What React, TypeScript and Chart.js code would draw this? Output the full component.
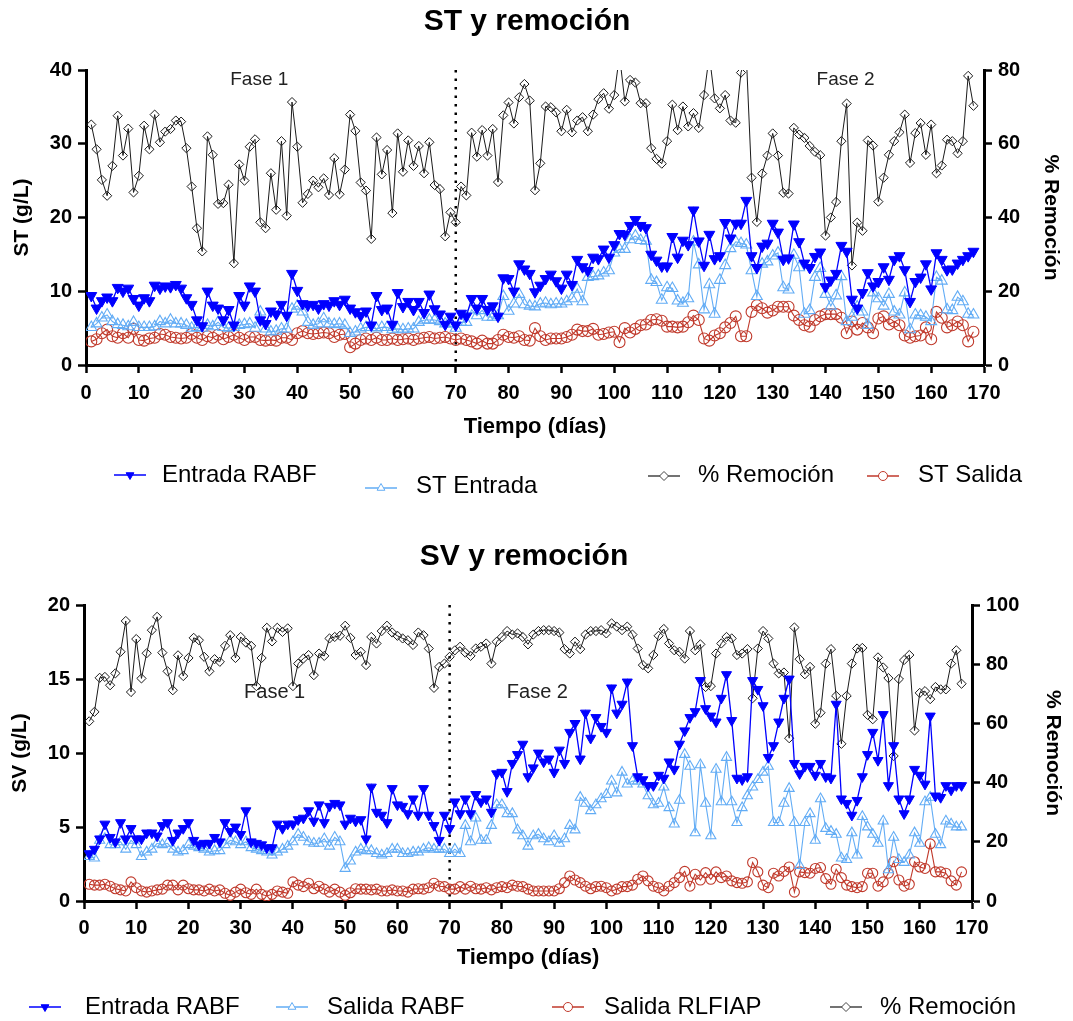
import React, { useEffect, useRef } from "react";
import { Chart, registerables } from "chart.js";

Chart.register(...registerables);

const FONT = '"Liberation Sans", Arial, Helvetica, sans-serif';
const BLUE = "#0000ff";
const LIGHT_BLUE = "#62acf5";
const RED = "#c0392b";
const GREY = "#1a1a1a";

// days are consecutive daily samples starting at day 1
const FIRST_DAY = 1;
const DIVIDER_DAY = 70;

const X_TICKS = [0, 10, 20, 30, 40, 50, 60, 70, 80, 90, 100, 110, 120, 130, 140, 150, 160, 170];
const ST_TICKS = [0, 10, 20, 30, 40];
const ST_REM_TICKS = [0, 20, 40, 60, 80];
const SV_TICKS = [0, 5, 10, 15, 20];
const SV_REM_TICKS = [0, 20, 40, 60, 80, 100];

// ---------- Top chart: ST (g/L) ----------
const ST_ENTRADA_RABF = [
  9.4, 7.7, 8.7, 9.2, 8.7, 10.5, 10.0, 10.4, 9.0, 8.1,
  9.1, 8.7, 10.8, 10.4, 10.7, 10.6, 10.9, 10.4, 9.1, 8.2,
  6.1, 5.3, 10.0, 8.1, 7.7, 6.1, 7.5, 5.4, 9.4, 8.1,
  10.7, 10.0, 6.1, 5.6, 7.3, 6.9, 8.2, 6.7, 12.4, 10.1,
  8.3, 8.1, 8.2, 7.7, 8.3, 8.1, 8.7, 8.2, 8.9, 7.7,
  7.2, 6.7, 7.3, 5.4, 9.4, 7.5, 7.7, 5.5, 9.8, 7.9,
  8.6, 7.5, 8.6, 7.1, 9.6, 7.6, 6.9, 5.5, 6.6, 5.4,
  7.0, 6.6, 9.0, 7.7, 9.0, 7.5, 8.0, 6.6, 11.8, 11.7,
  10.0, 13.7, 13.0, 12.4, 9.9, 10.8, 11.7, 12.3, 11.4, 10.4,
  12.3, 10.9, 14.3, 13.3, 12.8, 14.6, 14.4, 15.7, 14.6, 16.3,
  17.8, 17.7, 18.9, 19.7, 18.9, 18.6, 15.0, 14.2, 13.4, 13.4,
  17.4, 14.6, 16.9, 16.3, 21.0, 16.8, 13.5, 17.7, 14.4, 14.8,
  19.3, 17.2, 19.2, 19.2, 22.3, 14.8, 13.2, 16.1, 16.5, 19.2,
  18.0, 14.3, 14.5, 19.1, 16.7, 13.8, 13.2, 14.7, 15.3, 10.6,
  11.5, 12.4, 16.2, 15.4, 8.9, 7.7, 9.8, 12.5, 10.7, 11.3,
  13.3, 11.6, 14.3, 14.8, 12.9, 8.6, 11.3, 11.9, 13.7, 10.3,
  15.2, 14.3, 12.9, 13.0, 13.8, 14.3, 14.8, 15.4,
];

const ST_ENTRADA = [
  5.1, 5.6, 6.4, 6.8, 5.9, 5.5, 5.4, 5.2, 5.8, 5.1,
  5.1, 5.1, 5.2, 5.9, 5.6, 6.1, 5.6, 5.6, 5.4, 5.0,
  5.1, 5.0, 5.4, 5.2, 5.8, 5.1, 5.0, 5.1, 5.4, 5.5,
  5.6, 5.0, 7.2, 4.9, 4.5, 4.6, 4.9, 4.9, 7.6, 8.0,
  7.2, 5.8, 5.4, 5.6, 6.3, 5.6, 5.5, 5.6, 5.4, 4.3,
  4.5, 4.9, 5.1, 5.1, 4.9, 5.1, 5.1, 4.8, 4.9, 4.8,
  4.9, 4.9, 5.8, 6.1, 6.1, 6.1, 5.9, 5.6, 5.6, 5.0,
  5.8, 5.8, 7.5, 6.7, 7.4, 6.5, 6.5, 6.7, 9.3, 7.3,
  8.3, 9.6, 8.2, 8.0, 7.9, 8.3, 8.4, 8.2, 8.3, 8.3,
  8.6, 9.0, 10.3, 8.6, 11.9, 12.0, 12.1, 12.5, 12.8, 15.2,
  15.7, 15.7, 17.0, 17.5, 16.9, 16.8, 11.5, 11.2, 8.8, 10.5,
  10.4, 8.7, 8.4, 9.0, 16.7, 13.6, 7.5, 10.9, 6.9, 11.5,
  13.5, 15.8, 16.7, 16.5, 16.3, 12.8, 9.3, 13.7, 14.0, 14.8,
  15.2, 10.5, 10.2, 14.9, 13.2, 6.9, 7.4, 11.9, 13.1, 9.6,
  8.0, 9.4, 12.0, 5.9, 6.5, 7.9, 7.2, 5.4, 9.8, 9.0,
  8.0, 9.6, 7.2, 6.8, 9.8, 4.8, 6.8, 6.7, 6.5, 5.9,
  11.9, 11.4, 7.5, 7.4, 9.2, 8.6, 6.9, 6.8,
];

const ST_SALIDA = [
  3.2, 3.5, 4.3, 4.8, 3.9, 3.7, 4.3, 3.7, 4.9, 3.4,
  3.3, 3.6, 3.7, 4.2, 4.1, 3.8, 3.7, 3.6, 3.7, 4.2,
  3.7, 3.4, 3.9, 3.7, 4.1, 3.5, 3.8, 4.1, 3.7, 3.4,
  3.8, 3.8, 3.4, 3.3, 3.4, 3.3, 3.7, 3.7, 3.4, 4.3,
  4.6, 4.3, 4.2, 4.3, 4.4, 4.3, 3.8, 4.1, 4.2, 2.4,
  2.9, 3.4, 3.6, 3.4, 3.7, 3.4, 3.4, 3.6, 3.4, 3.5,
  3.6, 3.4, 3.6, 3.7, 3.8, 3.6, 3.7, 3.8, 3.6, 3.4,
  3.6, 3.4, 3.2, 2.9, 3.3, 2.9, 2.9, 3.4, 4.1, 3.8,
  3.7, 3.9, 3.4, 3.3, 5.0, 3.9, 3.4, 3.6, 3.6, 3.6,
  3.8, 4.1, 4.8, 4.6, 4.6, 4.9, 4.1, 4.2, 4.4, 4.5,
  3.1, 5.0, 4.4, 4.9, 5.4, 5.5, 6.1, 6.2, 6.0, 5.2,
  5.2, 5.1, 5.2, 5.8, 6.7, 6.1, 3.6, 3.3, 4.0, 4.3,
  5.1, 5.7, 6.6, 3.9, 3.9, 7.2, 8.1, 7.7, 7.1, 7.4,
  7.9, 7.9, 7.9, 6.7, 6.1, 5.4, 5.2, 6.1, 6.6, 6.9,
  6.9, 6.9, 6.4, 4.3, 5.9, 4.8, 5.7, 5.1, 4.3, 6.3,
  6.6, 5.5, 5.9, 5.4, 4.0, 3.7, 3.9, 4.0, 5.1, 3.5,
  7.2, 6.4, 5.1, 5.4, 5.9, 5.4, 3.2, 4.5,
];

const ST_REMOCION = [
  65.2, 58.5, 50.2, 45.9, 54, 67.6, 56.8, 64.1, 46.8, 51.3,
  64.9, 58.5, 67.9, 60.4, 63.3, 64, 66.3, 66, 58.8, 48.4,
  37.1, 30.8, 62, 57, 43.7, 43.9, 48.9, 27.6, 54.4, 50,
  59.2, 61.2, 38.7, 37.1, 52, 42.1, 60.7, 40.5, 71.3, 59.2,
  44, 46.4, 50, 48.2, 50.6, 46.1, 56.1, 46.3, 53, 67.9,
  63.5, 49.5, 47.3, 34.2, 61.7, 51.7, 58.3, 41.2, 62.8, 52.4,
  60.9, 54, 59.4, 52, 60.4, 48.8, 47.7, 34.9, 41.4, 38.7,
  48.4, 46, 63, 56.5, 63.7, 56.8, 64, 49.6, 67.7, 71.2,
  65.5, 72.6, 76.2, 71.7, 47.4, 54.7, 70.1, 69.9, 68.5, 63.4,
  69.2, 63.1, 66.3, 67.2, 63.4, 67.9, 72.1, 73.7, 69.5, 73.2,
  84, 71.5, 77.3, 76.6, 71, 71, 58.8, 55.9, 54.6, 60.7,
  70.6, 63.7, 70.1, 64.7, 68.3, 64.3, 73.2, 84, 72.3, 69.6,
  73.2, 66.3, 65.7, 79.3, 84, 50.8, 38.8, 51.9, 56.8, 62.8,
  56.8, 46.7, 46.5, 64.3, 62.5, 61.6, 59.4, 57.8, 56.9, 35.1,
  40, 44.2, 60.7, 70.9, 27, 38.6, 36.4, 60.9, 59.5, 44.3,
  50.8, 57, 60.7, 63.1, 67.9, 54.8, 62.9, 65.6, 57, 65.2,
  52, 54.1, 61.1, 60.7, 57.4, 60.7, 78.4, 70.3,
];

// ---------- Bottom chart: SV (g/L) ----------
const SV_ENTRADA_RABF = [
  3.2, 3.5, 4.2, 5.2, 4.3, 4.0, 5.3, 4.2, 4.9, 4.2,
  4.2, 4.6, 4.6, 4.4, 5.1, 5.3, 4.1, 4.6, 4.9, 5.3,
  4.1, 3.8, 3.9, 3.9, 4.3, 4.0, 5.3, 4.7, 5.0, 4.5,
  6.1, 4.0, 3.9, 3.8, 3.6, 3.6, 5.2, 4.9, 5.2, 5.2,
  5.5, 5.6, 6.1, 5.4, 6.5, 5.3, 6.4, 6.6, 6.5, 5.2,
  5.6, 5.4, 5.5, 4.2, 7.7, 6.0, 5.8, 5.3, 7.6, 6.5,
  6.4, 5.9, 6.9, 5.8, 7.6, 5.8, 5.1, 4.1, 5.8, 4.9,
  6.7, 5.9, 6.9, 5.9, 7.2, 6.7, 6.9, 6.0, 8.6, 8.7,
  7.4, 9.3, 9.9, 10.6, 8.4, 9.0, 10.0, 9.4, 9.6, 8.7,
  10.2, 9.3, 11.4, 12.0, 9.6, 12.7, 11.0, 12.4, 11.8, 11.4,
  14.4, 12.7, 13.3, 14.8, 10.5, 8.4, 8.2, 7.8, 7.8, 8.5,
  8.3, 9.4, 8.9, 10.6, 11.5, 12.4, 12.8, 14.9, 13.0, 12.5,
  12.1, 13.7, 15.3, 12.2, 8.3, 8.2, 8.4, 14.9, 14.3, 13.2,
  9.7, 10.5, 12.1, 13.7, 15.0, 9.3, 8.6, 9.1, 9.1, 8.5,
  9.3, 8.4, 8.3, 13.3, 6.9, 6.6, 5.8, 6.8, 8.4, 9.9,
  11.4, 9.5, 12.6, 7.8, 10.5, 6.9, 5.9, 6.9, 8.9, 8.5,
  7.9, 12.5, 7.1, 7.0, 7.8, 7.5, 7.8, 7.8,
];

const SV_SALIDA_RABF = [
  3.0, 2.9, 4.1, 4.6, 3.8, 3.8, 4.0, 3.5, 4.1, 3.8,
  3.0, 3.3, 3.5, 3.9, 3.8, 3.9, 3.5, 3.3, 3.4, 3.8,
  3.7, 3.6, 3.5, 3.3, 3.4, 3.4, 3.8, 4.1, 4.0, 3.8,
  4.0, 3.6, 3.5, 3.4, 3.3, 3.1, 3.3, 3.5, 3.7, 4.0,
  4.5, 4.3, 4.0, 3.9, 3.9, 4.2, 3.7, 4.3, 4.0, 2.2,
  2.7, 3.3, 3.5, 3.4, 3.4, 3.2, 3.1, 3.2, 3.5, 3.5,
  3.2, 3.2, 3.3, 3.3, 3.5, 3.6, 3.5, 3.5, 3.5, 3.2,
  3.5, 3.2, 5.1, 4.0, 5.6, 4.1, 4.1, 5.1, 6.5, 6.5,
  5.9, 5.9, 4.8, 4.4, 3.7, 4.4, 4.5, 4.2, 4.0, 4.4,
  3.9, 4.2, 5.1, 4.8, 7.0, 6.6, 6.1, 6.5, 6.9, 7.2,
  8.1, 7.3, 8.7, 7.9, 8.1, 8.1, 7.9, 7.1, 6.5, 6.6,
  7.7, 6.3, 5.2, 6.8, 9.9, 9.1, 4.6, 9.2, 6.6, 4.4,
  8.9, 6.7, 9.7, 6.7, 5.3, 6.3, 7.1, 7.7, 8.2, 8.7,
  9.1, 5.3, 5.3, 6.6, 7.6, 5.3, 2.4, 5.3, 5.9, 4.1,
  6.9, 4.9, 4.7, 4.5, 2.9, 2.8, 4.6, 3.1, 5.7, 5.0,
  4.5, 3.9, 5.4, 2.1, 4.3, 2.8, 2.6, 3.1, 4.6, 3.9,
  6.7, 7.0, 4.5, 3.8, 5.4, 5.2, 5.0, 5.0,
];

const SV_SALIDA_RLFIAP = [
  1.13, 1.07, 1.07, 1.13, 1.0, 0.83, 0.75, 0.68, 1.29, 0.9,
  0.68, 0.6, 0.68, 0.75, 0.8, 1.07, 1.07, 0.75, 1.07, 0.83,
  0.75, 0.75, 0.68, 0.8, 0.68, 0.75, 0.52, 0.38, 0.6, 0.8,
  0.56, 0.45, 0.8, 0.45, 0.34, 0.45, 0.68, 0.6, 0.52, 1.29,
  1.07, 0.97, 1.2, 0.83, 1.0, 0.8, 0.6, 0.8, 0.6, 0.38,
  0.56, 0.83, 0.8, 0.8, 0.75, 0.8, 0.68, 0.68, 0.75, 0.68,
  0.68, 0.6, 0.8, 0.83, 0.8, 0.9, 1.2, 1.0, 0.97, 0.8,
  0.8, 0.97, 0.8, 1.0, 0.83, 0.8, 0.9, 0.75, 0.9, 0.97,
  0.9, 1.07, 1.0, 0.97, 0.8, 0.68, 0.68, 0.68, 0.68, 0.68,
  0.83, 1.24, 1.69, 1.42, 1.24, 1.0, 0.83, 0.97, 1.0, 0.9,
  0.68, 0.8, 0.97, 0.97, 1.07, 1.47, 1.69, 1.36, 1.0, 0.9,
  0.68, 1.0, 1.24, 1.58, 2.0, 1.0, 1.81, 1.42, 1.92, 1.47,
  1.97, 1.58, 1.69, 1.36, 1.24, 1.2, 1.29, 2.6, 1.97, 1.07,
  0.9, 1.88, 1.69, 2.0, 2.3, 0.6, 1.97, 1.92, 1.88, 2.2,
  2.26, 1.51, 1.13, 2.15, 1.58, 1.07, 0.97, 0.9, 0.97, 1.88,
  1.88, 1.0, 1.29, 1.88, 2.65, 1.42, 1.0, 1.13, 2.65, 2.3,
  2.2, 3.86, 1.97, 1.97, 1.88, 1.36, 1.07, 1.97,
];

const SV_REMOCION = [
  60.7, 63.9, 75.4, 75.7, 72.9, 76.9, 84.2, 94.6, 70.6, 88.5,
  75.2, 83.7, 91.5, 96, 83.9, 77.6, 71.2, 83, 76, 82.1,
  88.9, 88.1, 82.5, 77.6, 81.7, 80.8, 86.2, 89.8, 82.1, 89.2,
  87.3, 86.2, 72.6, 82.1, 92.3, 87.7, 92.3, 90.9, 92.1, 72.6,
  80.2, 81.9, 83.1, 76.3, 83.6, 82.8, 88.7, 89.2, 89.6, 93,
  88.9, 83.1, 84.2, 79.7, 89.2, 87, 91.2, 93, 90.7, 89.6,
  88.7, 88.1, 86.5, 90.7, 89.8, 85.3, 72, 79.1, 80.2, 82.5,
  84.7, 85.9, 83.9, 82.8, 85.3, 85.9, 87, 80.2, 87.6, 89.2,
  91.2, 90, 90.4, 89.2, 86.7, 90, 91.2, 91.5, 91.5, 91.2,
  90.7, 85.1, 83.6, 87.6, 85.1, 90, 91.2, 91.2, 91.5, 90.4,
  93.8, 92.7, 91.5, 92.7, 90, 85.3, 79.7, 78.6, 83.1, 89.6,
  91.9, 87, 84.7, 84.2, 81.9, 91.2, 84.7, 86.7, 72.3, 72.6,
  83.6, 87, 89.2, 88.7, 83.1, 83.6, 85.1, 68.5, 85.3, 91.2,
  88.7, 80.2, 76.9, 77.2, 55, 92.4, 81.7, 76.6, 79.1, 59.9,
  63.6, 80.2, 85.1, 69.3, 53.1, 69.3, 80.2, 85.3, 85.5, 62.9,
  61.4, 82.3, 78.9, 75.3, 49, 75, 81.4, 83.1, 57.6, 70.3,
  70.9, 68.2, 72.3, 71.5, 71.5, 80.2, 84.7, 73.4,
];

// ---------- helpers ----------
type Marker = "triDown" | "triUp" | "diamond" | "circle";

function drawMarker(ctx: CanvasRenderingContext2D, m: Marker, x: number, y: number, r: number, color: string, filled: boolean) {
  ctx.beginPath();
  if (m === "triDown") {
    ctx.moveTo(x - r * 0.866, y - r * 0.5);
    ctx.lineTo(x + r * 0.866, y - r * 0.5);
    ctx.lineTo(x, y + r);
    ctx.closePath();
  } else if (m === "triUp") {
    ctx.moveTo(x - r * 0.866, y + r * 0.5);
    ctx.lineTo(x + r * 0.866, y + r * 0.5);
    ctx.lineTo(x, y - r);
    ctx.closePath();
  } else if (m === "diamond") {
    ctx.moveTo(x, y - r);
    ctx.lineTo(x + r, y);
    ctx.lineTo(x, y + r);
    ctx.lineTo(x - r, y);
    ctx.closePath();
  } else {
    ctx.arc(x, y, r, 0, Math.PI * 2);
  }
  ctx.fillStyle = filled ? color : "#fff";
  ctx.fill();
  ctx.strokeStyle = color;
  ctx.lineWidth = 1;
  ctx.stroke();
}

type LegendItem = { marker: Marker; color: string; filled: boolean; mx: number; my: number; tx: number; ty: number; text: string };
type PhaseLabel = { text: string; day: number; value: number };

type Decor = {
  title: string;
  titleX: number;
  titleY: number;
  phaseFont: number;
  phases: PhaseLabel[];
  legend: LegendItem[];
};

function decorPlugin(d: Decor) {
  return {
    id: "decor",
    beforeDatasetsDraw(chart: any) {
      const ctx = chart.ctx as CanvasRenderingContext2D;
      const { top, bottom } = chart.chartArea;
      const dx = chart.scales.x.getPixelForValue(DIVIDER_DAY);
      ctx.save();
      ctx.strokeStyle = "#000";
      ctx.lineWidth = 2.5;
      ctx.setLineDash([2.5, 6]);
      ctx.beginPath();
      ctx.moveTo(dx, top);
      ctx.lineTo(dx, bottom);
      ctx.stroke();
      ctx.restore();
    },
    afterDraw(chart: any) {
      const ctx = chart.ctx as CanvasRenderingContext2D;
      ctx.save();
      ctx.fillStyle = "#000";
      ctx.textAlign = "center";
      ctx.textBaseline = "middle";
      ctx.font = `bold 30px ${FONT}`;
      ctx.fillText(d.title, d.titleX, d.titleY);

      ctx.font = `${d.phaseFont}px ${FONT}`;
      ctx.fillStyle = "#222";
      for (const p of d.phases) {
        const x = chart.scales.x.getPixelForValue(p.day);
        const y = chart.scales.y.getPixelForValue(p.value);
        ctx.fillText(p.text, x, y);
      }

      ctx.textAlign = "left";
      ctx.font = `24px ${FONT}`;
      for (const it of d.legend) {
        ctx.strokeStyle = it.color;
        ctx.lineWidth = 1.5;
        ctx.beginPath();
        ctx.moveTo(it.mx - 16, it.my);
        ctx.lineTo(it.mx + 16, it.my);
        ctx.stroke();
        drawMarker(ctx, it.marker, it.mx, it.my, 4.5, it.color, it.filled);
        ctx.fillStyle = "#000";
        ctx.fillText(it.text, it.tx, it.ty);
      }
      ctx.restore();
    },
  };
}

const tickFont = { family: FONT, size: 20, weight: "bold" as const };
const titleFont = { family: FONT, size: 21, weight: "bold" as const };

function commonAxis() {
  return {
    grid: { drawOnChartArea: false, drawTicks: true, tickLength: 8, tickWidth: 2.5, tickColor: "#000" },
    border: { display: true, width: 3, color: "#000" },
  };
}

function xScale(height: number, pad: number) {
  return {
    type: "linear",
    position: "bottom",
    min: 0,
    max: 170,
    afterBuildTicks: (s: any) => {
      s.ticks = X_TICKS.map((v) => ({ value: v }));
    },
    afterFit: (s: any) => {
      s.height = height;
    },
    ticks: { font: tickFont, color: "#000", padding: pad, maxRotation: 0, autoSkip: false },
    title: {
      display: true,
      text: "Tiempo (días)",
      color: "#000",
      font: { family: FONT, size: 22, weight: "bold" as const },
      padding: { top: 0, bottom: 4 },
    },
    ...commonAxis(),
  };
}

function yScale(pos: "left" | "right", max: number, ticks: number[], width: number, text: string, pad: number) {
  return {
    type: "linear",
    position: pos,
    min: 0,
    max,
    afterBuildTicks: (s: any) => {
      s.ticks = ticks.map((v) => ({ value: v }));
    },
    afterFit: (s: any) => {
      s.width = width;
    },
    ticks: { font: tickFont, color: "#000", padding: 6 },
    title: { display: true, text, color: "#000", font: titleFont, padding: { top: pad, bottom: 0 } },
    ...commonAxis(),
  };
}

function pts(values: number[]) {
  return values.map((v, i) => ({ x: FIRST_DAY + i, y: v }));
}

function seriesSets(main: number[], second: number[], out: number[], rem: number[], labels: string[], r: number) {
  return [
    {
      label: labels[0],
      data: pts(main),
      yAxisID: "y",
      borderColor: BLUE,
      backgroundColor: BLUE,
      borderWidth: 1.3,
      pointStyle: "triangle",
      pointRotation: 180,
      pointRadius: r,
      pointBackgroundColor: BLUE,
      pointBorderColor: BLUE,
      pointBorderWidth: 1,
    },
    {
      label: labels[1],
      data: pts(second),
      yAxisID: "y",
      borderColor: LIGHT_BLUE,
      backgroundColor: "rgba(0,0,0,0)",
      borderWidth: 1.1,
      pointStyle: "triangle",
      pointRadius: r,
      pointBackgroundColor: "rgba(0,0,0,0)",
      pointBorderColor: LIGHT_BLUE,
      pointBorderWidth: 1.1,
    },
    {
      label: labels[2],
      data: pts(out),
      yAxisID: "y",
      borderColor: RED,
      backgroundColor: "rgba(0,0,0,0)",
      borderWidth: 1.1,
      pointStyle: "circle",
      pointRadius: r - 0.8,
      pointBackgroundColor: "rgba(0,0,0,0)",
      pointBorderColor: RED,
      pointBorderWidth: 1.1,
    },
    {
      label: labels[3],
      data: pts(rem),
      yAxisID: "y1",
      clip: 0,
      borderColor: GREY,
      backgroundColor: "rgba(0,0,0,0)",
      borderWidth: 1,
      pointStyle: "rectRot",
      pointRadius: 4.6,
      pointBackgroundColor: "rgba(0,0,0,0)",
      pointBorderColor: GREY,
      pointBorderWidth: 1,
    },
  ];
}

function topConfig(): any {
  return {
    type: "line",
    data: {
      datasets: seriesSets(ST_ENTRADA_RABF, ST_ENTRADA, ST_SALIDA, ST_REMOCION, ["Entrada RABF", "ST Entrada", "ST Salida", "% Remoción"], 6.3),
    },
    options: {
      responsive: false,
      animation: false,
      devicePixelRatio: 1,
      layout: { padding: { top: 70, bottom: 76, left: 0, right: 0 } },
      elements: { line: { tension: 0 } },
      plugins: { legend: { display: false }, tooltip: { enabled: false }, title: { display: false } },
      scales: {
        x: xScale(79, 8),
        y: yScale("left", 40, ST_TICKS, 86, "ST (g/L)", 10),
        y1: yScale("right", 80, ST_REM_TICKS, 89, "% Remoción", 10),
      },
    },
    plugins: [
      decorPlugin({
        title: "ST y remoción",
        titleX: 527,
        titleY: 22,
        phaseFont: 19,
        phases: [
          { text: "Fase 1", day: 32.8, value: 38.7 },
          { text: "Fase 2", day: 143.8, value: 38.7 },
        ],
        legend: [
          { marker: "triDown", color: BLUE, filled: true, mx: 130, my: 475, tx: 162, ty: 475, text: "Entrada RABF" },
          { marker: "triUp", color: LIGHT_BLUE, filled: false, mx: 381, my: 488, tx: 416, ty: 486, text: "ST Entrada" },
          { marker: "diamond", color: "#444", filled: false, mx: 664, my: 476, tx: 698, ty: 475, text: "% Remoción" },
          { marker: "circle", color: RED, filled: false, mx: 883, my: 476, tx: 918, ty: 475, text: "ST Salida" },
        ],
      }),
    ],
  };
}

function bottomConfig(): any {
  return {
    type: "line",
    data: {
      datasets: seriesSets(SV_ENTRADA_RABF, SV_SALIDA_RABF, SV_SALIDA_RLFIAP, SV_REMOCION, ["Entrada RABF", "Salida RABF", "Salida RLFIAP", "% Remoción"], 5.8),
    },
    options: {
      responsive: false,
      animation: false,
      devicePixelRatio: 1,
      layout: { padding: { top: 85, bottom: 46, left: 0, right: 0 } },
      elements: { line: { tension: 0 } },
      plugins: { legend: { display: false }, tooltip: { enabled: false }, title: { display: false } },
      scales: {
        x: xScale(74, 7),
        y: yScale("left", 20, SV_TICKS, 84, "SV (g/L)", 8),
        y1: yScale("right", 100, SV_REM_TICKS, 101, "% Remoción", 8),
      },
    },
    plugins: [
      decorPlugin({
        title: "SV y remoción",
        titleX: 524,
        titleY: 37,
        phaseFont: 20,
        phases: [
          { text: "Fase 1", day: 36.5, value: 14.1 },
          { text: "Fase 2", day: 86.8, value: 14.1 },
        ],
        legend: [
          { marker: "triDown", color: BLUE, filled: true, mx: 45, my: 487, tx: 85, ty: 487, text: "Entrada RABF" },
          { marker: "triUp", color: LIGHT_BLUE, filled: false, mx: 292, my: 487, tx: 327, ty: 487, text: "Salida RABF" },
          { marker: "circle", color: RED, filled: false, mx: 568, my: 487, tx: 604, ty: 487, text: "Salida RLFIAP" },
          { marker: "diamond", color: "#444", filled: false, mx: 846, my: 487, tx: 880, ty: 487, text: "% Remoción" },
        ],
      }),
    ],
  };
}

function ChartPanel({ make, top, height }: { make: () => any; top: number; height: number }) {
  const ref = useRef<HTMLCanvasElement | null>(null);
  useEffect(() => {
    if (!ref.current) return;
    const chart = new Chart(ref.current, make());
    return () => chart.destroy();
  }, [make]);
  return (
    <canvas
      ref={ref}
      width={1073}
      height={height}
      style={{ position: "absolute", left: 0, top, width: 1073, height, display: "block" }}
    />
  );
}

export default function App() {
  return (
    <div style={{ position: "absolute", left: 0, top: 0, width: 1073, height: 1021, background: "#fff", overflow: "hidden" }}>
      <ChartPanel make={topConfig} top={0} height={520} />
      <ChartPanel make={bottomConfig} top={520} height={501} />
    </div>
  );
}
